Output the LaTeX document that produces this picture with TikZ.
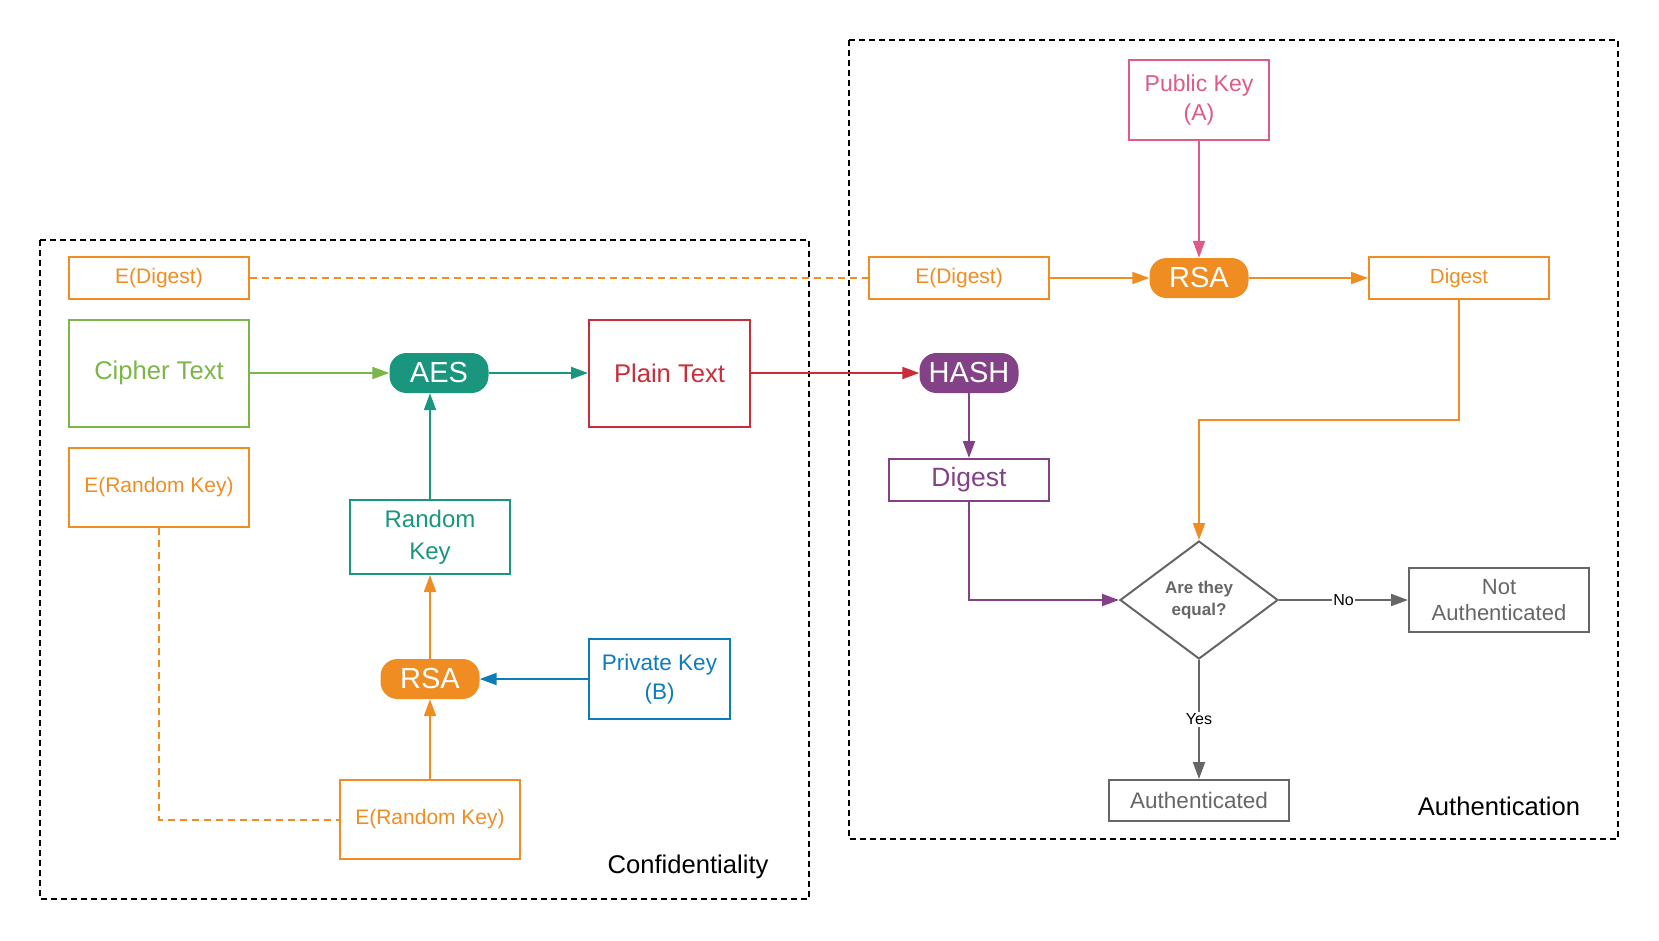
\documentclass[tikz,border=0pt]{standalone}
\usepackage{fontspec}
\setmainfont{Liberation Sans}
\usetikzlibrary{shapes.geometric,arrows.meta}

\definecolor{lcOrange}{HTML}{EF8D22}
\definecolor{lcGreen}{HTML}{7AB648}
\definecolor{lcTeal}{HTML}{19967D}
\definecolor{lcRed}{HTML}{C92D39}
\definecolor{lcBlue}{HTML}{0C7CBA}
\definecolor{lcPurple}{HTML}{834187}
\definecolor{lcPink}{HTML}{DE5A89}
\definecolor{lcGray}{HTML}{666666}

\begin{document}
\begin{tikzpicture}[x=1pt,y=-1pt]

\tikzstyle{box}=[rectangle,draw,line width=2pt,inner sep=0pt,align=center]
\tikzstyle{smallBox}=[box,minimum width=180pt,minimum height=42pt,font=\fontsize{21}{26}\selectfont]
\tikzstyle{pill}=[rectangle,rounded corners=17pt,minimum width=99pt,minimum height=40pt,inner sep=0pt,text=white,font=\fontsize{29}{32}\selectfont]
\tikzstyle{wire}=[line width=2pt,-{Triangle[length=17pt,width=12pt]}]
\tikzstyle{dashLink}=[line width=2pt,dash pattern=on 7pt off 5pt]
\tikzstyle{frame}=[line width=2pt,dash pattern=on 6pt off 4pt]

\useasboundingbox (0,0) rectangle (1659,940);

%Frames
\draw[frame] (40,240) rectangle (809,899);
\draw[frame] (849,40) rectangle (1618,839);
\node[anchor=east,font=\fontsize{25.6}{30}\selectfont] (confLabel) at (772,867) {Confidentiality};
\node[font=\fontsize{25.6}{30}\selectfont] (authLabel) at (1499,806) {Authentication};

%Confidentiality
\node[smallBox,draw=lcOrange,text=lcOrange] (eDigestL) at (159,278) {E(Digest)};
\node[box,draw=lcGreen,text=lcGreen,minimum width=180pt,minimum height=107pt,font=\fontsize{25.6}{30}\selectfont] (cipher) at (159,373) {Cipher Text};
\node[smallBox,draw=lcOrange,text=lcOrange,minimum height=79pt] (eKeyL) at (159,487.5) {E(Random Key)};
\node[pill,fill=lcTeal] (aes) at (439,373) {AES};
\node[box,draw=lcRed,text=lcRed,minimum width=161pt,minimum height=107pt,font=\fontsize{25.6}{30}\selectfont] (plain) at (669.5,373) {Plain Text};
\node[box,draw=lcTeal,text=lcTeal,minimum width=160pt,minimum height=74pt,font=\fontsize{24}{32}\selectfont] (randKey) at (430,537) {Random\\Key};
\node[pill,fill=lcOrange] (rsaL) at (430,679) {RSA};
\node[box,draw=lcBlue,text=lcBlue,minimum width=141pt,minimum height=80pt,font=\fontsize{22.5}{29.5}\selectfont] (privKey) at (659.5,679) {Private Key\\(B)};
\node[smallBox,draw=lcOrange,text=lcOrange,minimum height=79pt] (eKeyB) at (430,819.5) {E(Random Key)};

\draw[wire,lcGreen] (cipher) -- (aes);
\draw[wire,lcTeal] (aes) -- (plain);
\draw[wire,lcTeal] (randKey.north) -- (randKey.north |- aes.south);
\draw[wire,lcOrange] (rsaL) -- (randKey);
\draw[wire,lcBlue] (privKey) -- (rsaL);
\draw[wire,lcOrange] (eKeyB) -- (rsaL);
\draw[dashLink,lcOrange] (eKeyL.south) |- (eKeyB.west);

%Authentication
\node[smallBox,draw=lcOrange,text=lcOrange] (eDigestR) at (959,278) {E(Digest)};
\node[pill,fill=lcOrange] (rsaR) at (1199,278) {RSA};
\node[smallBox,draw=lcOrange,text=lcOrange,font=\fontsize{20.5}{26}\selectfont] (digestO) at (1459,278) {Digest};
\node[box,draw=lcPink,text=lcPink,minimum width=140pt,minimum height=80pt,font=\fontsize{23}{29}\selectfont] (pubKey) at (1199,100) {Public Key\\(A)};
\node[pill,fill=lcPurple] (hash) at (969,373) {HASH};
\node[box,draw=lcPurple,text=lcPurple,minimum width=160pt,minimum height=42pt,font=\fontsize{26.5}{30}\selectfont] (digestP) at (969,480) {Digest};
\node[diamond,draw=lcGray,line width=2pt,minimum width=158pt,minimum height=118pt,inner sep=0pt,align=center,text=lcGray,font=\bfseries\fontsize{17}{22}\selectfont] (equal) at (1199,600) {Are they\\equal?};
\node[box,draw=lcGray,text=lcGray,minimum width=180pt,minimum height=64pt,font=\fontsize{22}{26.5}\selectfont] (notAuth) at (1499,600) {Not\\Authenticated};
\node[box,draw=lcGray,text=lcGray,minimum width=180pt,minimum height=41pt,font=\fontsize{22.5}{27}\selectfont] (auth) at (1199,800.5) {Authenticated};
\coordinate (digestBend) at (1459,420);

\draw[dashLink,lcOrange] (eDigestL) -- (eDigestR);
\draw[wire,lcOrange] (eDigestR) -- (rsaR);
\draw[wire,lcPink] (pubKey) -- (rsaR);
\draw[wire,lcOrange] (rsaR) -- (digestO);
\draw[wire,lcRed] (plain) -- (hash);
\draw[wire,lcPurple] (hash) -- (digestP);
\draw[wire,lcPurple] (digestP.south) |- (equal.west);
\draw[wire,lcOrange] (digestO.south) -- (digestBend) -| (equal.north);
\draw[wire,lcGray] (equal.east) -- (notAuth.west) node[midway,fill=white,inner sep=1pt,text=black,font=\fontsize{16}{19}\selectfont] {No};
\draw[wire,lcGray] (equal.south) -- (auth.north) node[midway,fill=white,inner sep=2pt,text=black,font=\fontsize{16}{19}\selectfont] {Yes};

\end{tikzpicture}
\end{document}
